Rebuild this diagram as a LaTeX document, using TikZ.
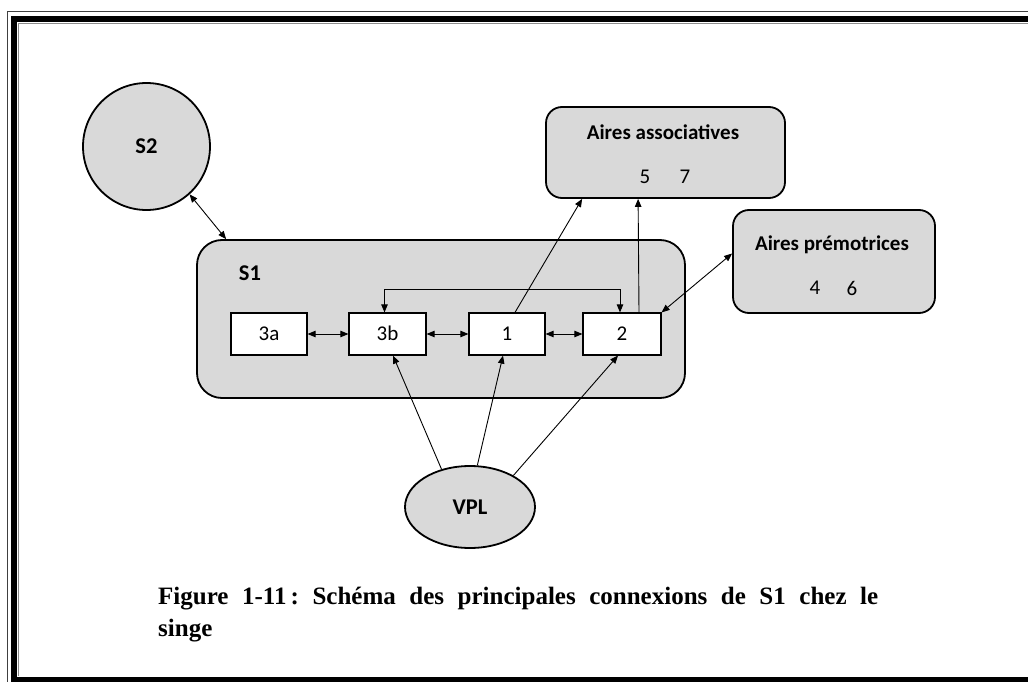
\documentclass[tikz,border=0pt]{standalone}
\usepackage{fontspec}
\setmainfont{Carlito}
\newfontfamily\capfont{Liberation Serif}
\usetikzlibrary{arrows.meta,calc,shapes.geometric}
\definecolor{shapegray}{HTML}{D9D9D9}
\frenchspacing
\begin{document}
\begin{tikzpicture}[x=1pt,y=-1pt,
  grayshape/.style={draw=black, fill=shapegray, line width=1.8pt, inner sep=0pt},
  areabox/.style={draw=black, fill=white, line width=1.2pt, minimum height=42pt, inner sep=0pt, text height=13.5pt, text depth=0pt, font=\fontsize{21}{24}\selectfont},
  conn/.style={line width=0.9pt, -{Triangle[length=8pt,width=6.5pt]}},
  dconn/.style={line width=0.9pt, {Triangle[length=8pt,width=6.5pt]}-{Triangle[length=8pt,width=6.5pt]}},
  lbl/.style={font=\fontsize{21}{24}\selectfont\bfseries, inner sep=0pt},
  biglbl/.style={font=\fontsize{22.5}{24}\selectfont\bfseries},
  num/.style={font=\fontsize{21}{24}\selectfont, inner sep=0pt}]
\path[use as bounding box] (0,0) rectangle (1028,682);
\clip (0,0) rectangle (1028,682);
\fill[white] (0,0) rectangle (1028,682);
% frame
\draw[line width=1pt, black!75] (7,690) -- (7,12) -- (1040,12);
\draw[line width=6.5pt] (1040,680) -- (14,680) -- (14,19) -- (1040,19);
\draw[line width=0.8pt, black!45] (18,676) -- (18,23) -- (1040,23);

% shapes
\node[circle, grayshape, minimum size=127pt, biglbl] (S2) at (146.5,146.5) {S2};
\node[grayshape, rounded corners=25pt, minimum width=488pt, minimum height=158pt] (S1) at (441,319) {};
\node[lbl, biglbl, inner sep=0pt] (S1lbl) at (250,273) {S1};

\node[grayshape, rounded corners=16pt, minimum width=239pt, minimum height=91pt] (AA) at (665.5,152.5) {};
\node[lbl] (AAt) at (663,132) {Aires associatives};
\node[num] (n5) at (645,177) {5};
\node[num] (n7) at (685,177) {7};

\node[grayshape, rounded corners=16pt, minimum width=202pt, minimum height=103pt] (AP) at (834,261.5) {};
\node[lbl] (APt) at (832,245) {Aires prémotrices};
\node[num] (n4) at (815,288) {4};
\node[num] (n6) at (852,288) {6};

\node[ellipse, grayshape, minimum width=130pt, minimum height=82pt, biglbl] (VPL) at (470,507) {VPL};

\node[areabox, minimum width=76pt] (a3) at (269,334) {3a};
\node[areabox, minimum width=77pt] (b3) at (387.5,334) {3b};
\node[areabox, minimum width=76pt] (one) at (507,334) {1};
\node[areabox, minimum width=78pt] (two) at (622,334) {2};

% connectors
\draw[dconn] (a3) -- (b3);
\draw[dconn] (b3) -- (one);
\draw[dconn] (one) -- (two);
\draw[dconn] ($(b3.north)+(-3,0)$) -- ++(0,-23) -| ($(two.north)+(-2,0)$);
\draw[conn] ($(one.north)+(8,0)$) -- ($(AA.south west)+(37,0)$);
\draw[conn] ($(two.north)+(17,0)$) -- ($(AA.south west)+(93,0)$);
\draw[dconn] (two.north east) -- ($(AP.west)+(0,-8)$);
\draw[dconn] (S2.-48) -- ($(S1.north west)+(30,0)$);
\draw[conn] (VPL.127) -- ($(b3.south)+(5.5,0)$);
\draw[conn] (VPL.80) -- ($(one.south)+(-4,0)$);
\draw[conn] (VPL.36) -- ($(two.south)+(-4,0)$);

% caption
\node[anchor=north west, text width=720pt, align=justify, inner sep=0pt,
      font=\capfont\bfseries\fontsize{25}{32}\selectfont] (cap) at (158,587)
  {Figure 1-11\,: Schéma des principales connexions de S1 chez le\linebreak singe};
\end{tikzpicture}
\end{document}
